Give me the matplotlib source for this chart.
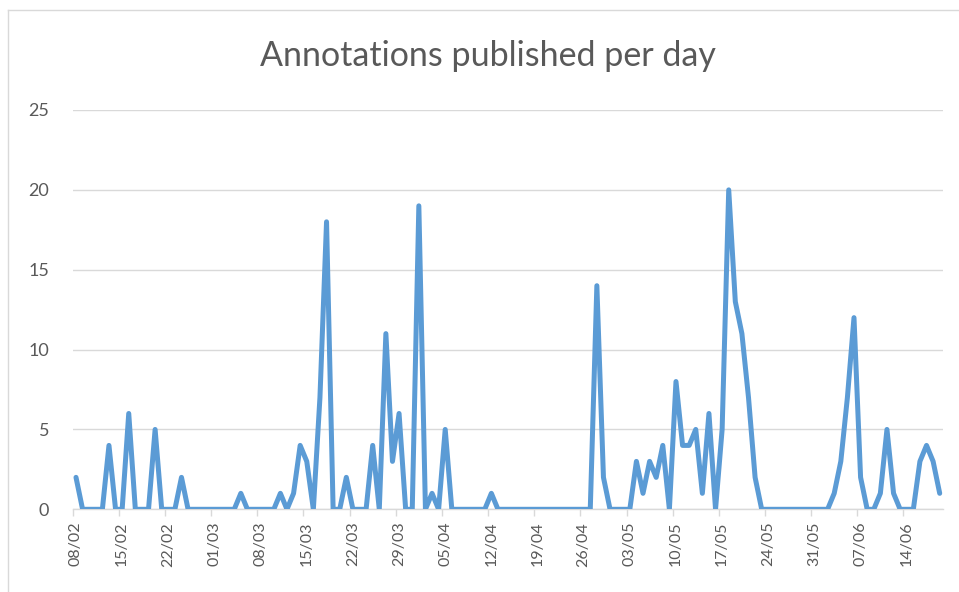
import matplotlib.pyplot as plt
from matplotlib.lines import Line2D

# ==========================
# Data (one value per day, starting 08/02)
# ==========================
annotations_per_day = [
    2, 0, 0, 0, 0, 4, 0, 0, 6, 0, 0, 0, 5, 0, 0, 0, 2, 0, 0, 0,   # 08/02 - 27/02
    0, 0, 0, 0, 0, 1, 0, 0, 0, 0, 0, 1, 0, 1, 4, 3, 0, 7, 18, 0,  # 28/02 - 19/03
    0, 2, 0, 0, 0, 4, 0, 11, 3, 6, 0, 0, 19, 0, 1, 0, 5, 0, 0, 0, # 20/03 - 08/04
    0, 0, 0, 1, 0, 0, 0, 0, 0, 0, 0, 0, 0, 0, 0, 0, 0, 0, 0, 14,  # 09/04 - 28/04
    2, 0, 0, 0, 0, 3, 1, 3, 2, 4, 0, 8, 4, 4, 5, 1, 6, 0, 5, 20,  # 29/04 - 18/05
    13, 11, 7, 2, 0, 0, 0, 0, 0, 0, 0, 0, 0, 0, 0, 1, 3, 7, 12, 2, # 19/05 - 07/06
    0, 0, 1, 5, 1, 0, 0, 0, 3, 4, 3, 1,                            # 08/06 - 19/06
]

tick_labels = [
    "08/02", "15/02", "22/02", "01/03", "08/03", "15/03", "22/03", "29/03",
    "05/04", "12/04", "19/04", "26/04", "03/05", "10/05", "17/05", "24/05",
    "31/05", "07/06", "14/06",
]

days = list(range(len(annotations_per_day)))

# ==========================
# Styling
# ==========================
LINE_COLOR = "#5B9BD5"
GRID_COLOR = "#D9D9D9"
TEXT_COLOR = "#595959"

plt.rcParams["font.family"] = ["Lato", "DejaVu Sans"]

fig = plt.figure(figsize=(9.59, 5.92), dpi=100)
ax = fig.add_axes([72.7 / 959, 1 - 509.3 / 592, (943 - 72.7) / 959, (509.3 - 110) / 592])

ax.plot(days, annotations_per_day, color=LINE_COLOR, linewidth=3.6,
        solid_joinstyle="round", solid_capstyle="round", zorder=3)

# ==========================
# Axes
# ==========================
ax.set_xlim(-0.5, len(days) - 0.5)
ax.set_ylim(0, 25)
ax.set_yticks(range(0, 26, 5))
ax.yaxis.grid(True, color=GRID_COLOR, linewidth=1.0)
ax.set_axisbelow(True)

# labels sit on the day, tick marks sit between days
label_pos = [7 * i for i in range(len(tick_labels))]
ax.set_xticks(label_pos)
ax.set_xticklabels(tick_labels, rotation=90, fontsize=11.5, color=TEXT_COLOR)
ax.set_xticks([p - 0.5 for p in label_pos], minor=True)
ax.tick_params(axis="x", which="major", length=0, pad=9)
ax.tick_params(axis="x", which="minor", length=5, color=GRID_COLOR, width=1)
ax.tick_params(axis="y", length=0, pad=17, labelsize=13, labelcolor=TEXT_COLOR)

for side in ["top", "right", "left"]:
    ax.spines[side].set_visible(False)
ax.spines["bottom"].set_color(GRID_COLOR)
ax.spines["bottom"].set_linewidth(1.0)

# ==========================
# Title and chart border
# ==========================
fig.text(488 / 959, 1 - 56 / 592, "Annotations published per day",
         ha="center", va="center", fontsize=24.5, color=TEXT_COLOR)

fig.add_artist(Line2D([8 / 959, 8 / 959], [0, 1 - 10 / 592],
                      transform=fig.transFigure, color=GRID_COLOR, linewidth=1))
fig.add_artist(Line2D([8 / 959, 1], [1 - 10 / 592, 1 - 10 / 592],
                      transform=fig.transFigure, color=GRID_COLOR, linewidth=1))

fig.savefig("out.png", dpi=100)
